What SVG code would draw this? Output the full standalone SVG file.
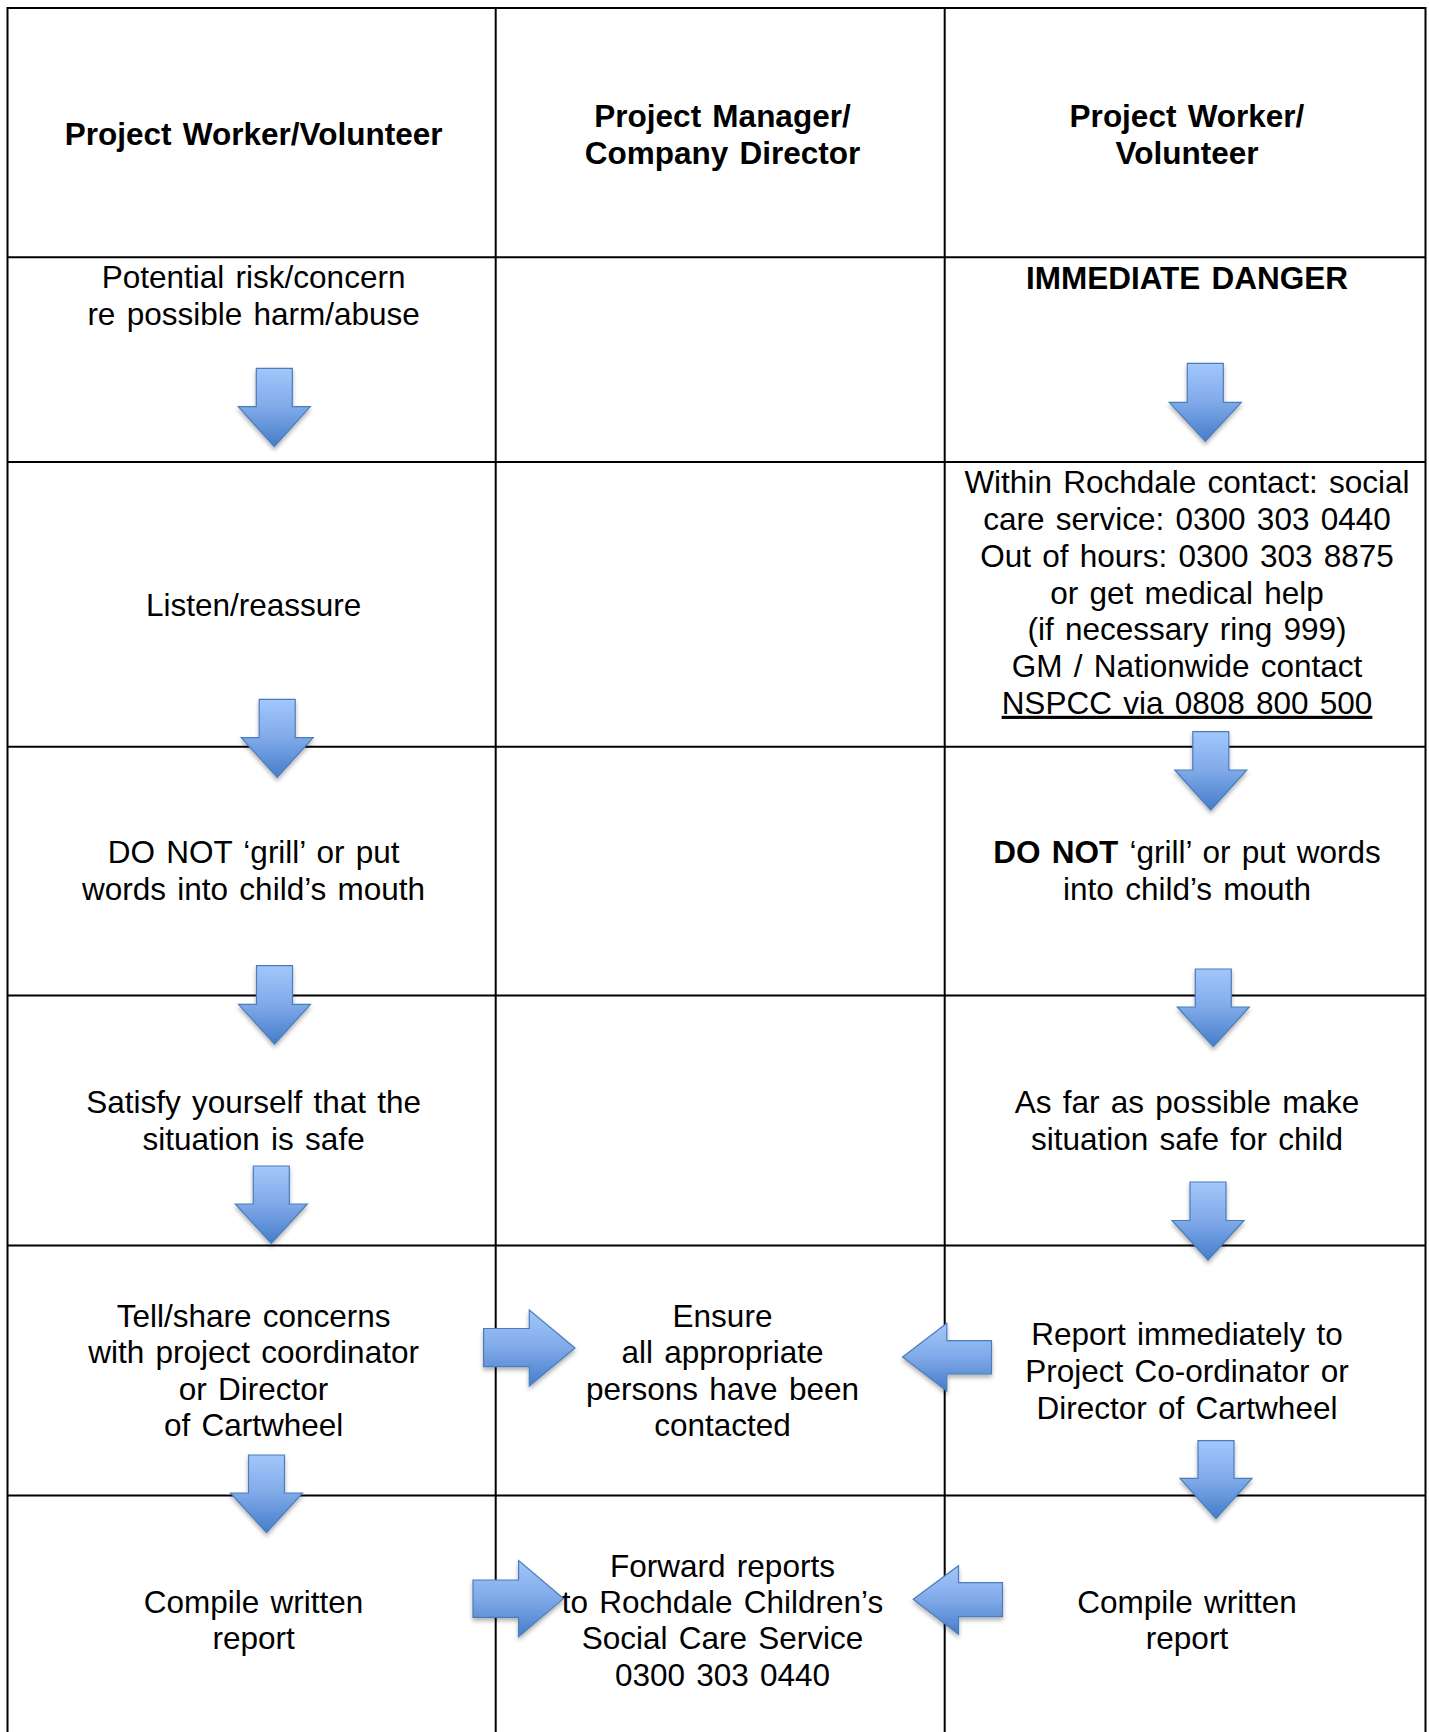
<svg xmlns="http://www.w3.org/2000/svg" width="1429" height="1732" viewBox="0 0 1429 1732">
<style>
  .t { font-family: "Liberation Sans", Arial, sans-serif; font-size: 31.5px; fill: #000; text-anchor: middle; word-spacing: 2.5px; }
  .b { font-weight: bold; }
  .grid line { stroke: #000; stroke-width: 2; }
  .arr { fill: url(#blueGrad); stroke: #4a7ebb; stroke-width: 1.2; filter: url(#shadow); }
</style>
<defs>
  <linearGradient id="blueGrad" x1="0" y1="0" x2="0" y2="1">
    <stop offset="0" stop-color="#a3c7fc"/>
    <stop offset="0.5" stop-color="#7fa9e8"/>
    <stop offset="1" stop-color="#457dca"/>
  </linearGradient>
  <filter id="shadow" x="-30%" y="-30%" width="160%" height="160%">
    <feDropShadow dx="0" dy="3" stdDeviation="2.2" flood-color="#000" flood-opacity="0.3"/>
  </filter>
</defs>
<rect width="1429" height="1732" fill="#fff"/>

<g id="grid" class="grid">
  <line x1="7.5" y1="8" x2="1425.5" y2="8"/>
  <line x1="7.5" y1="257.3" x2="1425.5" y2="257.3"/>
  <line x1="7.5" y1="462" x2="1425.5" y2="462"/>
  <line x1="7.5" y1="746.7" x2="1425.5" y2="746.7"/>
  <line x1="7.5" y1="995.5" x2="1425.5" y2="995.5"/>
  <line x1="7.5" y1="1245.5" x2="1425.5" y2="1245.5"/>
  <line x1="7.5" y1="1495.5" x2="1425.5" y2="1495.5"/>
  <line x1="7.5" y1="7" x2="7.5" y2="1732"/>
  <line x1="495.7" y1="7" x2="495.7" y2="1732"/>
  <line x1="944.7" y1="7" x2="944.7" y2="1732"/>
  <line x1="1425.5" y1="7" x2="1425.5" y2="1732"/>
</g>

<g id="header-worker">
  <text class="t b" x="253.6" y="145">Project Worker/Volunteer</text>
</g>
<g id="header-manager">
  <text class="t b" x="722.5" y="127">Project Manager/</text>
  <text class="t b" x="722.5" y="163.5">Company Director</text>
</g>
<g id="header-worker2">
  <text class="t b" x="1187" y="127">Project Worker/</text>
  <text class="t b" x="1187" y="163.5">Volunteer</text>
</g>

<g id="potential-risk">
  <text class="t" x="253.6" y="287.7">Potential risk/concern</text>
  <text class="t" x="253.6" y="325">re possible harm/abuse</text>
</g>
<g id="immediate-danger">
  <text class="t b" x="1187" y="289.3">IMMEDIATE DANGER</text>
</g>

<g id="listen">
  <text class="t" x="253.6" y="616">Listen/reassure</text>
</g>
<g id="contact">
  <text class="t" x="1187" y="493.3">Within Rochdale contact: social</text>
  <text class="t" x="1187" y="530">care service: 0300 303 0440</text>
  <text class="t" x="1187" y="566.8">Out of hours: 0300 303 8875</text>
  <text class="t" x="1187" y="603.5">or get medical help</text>
  <text class="t" x="1187" y="640.3">(if necessary ring 999)</text>
  <text class="t" x="1187" y="677">GM / Nationwide contact</text>
  <text class="t" x="1187" y="713.8" text-decoration="underline">NSPCC via 0808 800 500</text>
</g>

<g id="do-not-left">
  <text class="t" x="253.6" y="863">DO NOT ‘grill’ or put</text>
  <text class="t" x="253.6" y="900">words into child’s mouth</text>
</g>
<g id="do-not-right">
  <text class="t" x="1187" y="863"><tspan class="b">DO NOT</tspan> ‘grill’ or put words</text>
  <text class="t" x="1187" y="900">into child’s mouth</text>
</g>

<g id="satisfy">
  <text class="t" x="253.6" y="1113">Satisfy yourself that the</text>
  <text class="t" x="253.6" y="1150">situation is safe</text>
</g>
<g id="make-safe">
  <text class="t" x="1187" y="1113">As far as possible make</text>
  <text class="t" x="1187" y="1150">situation safe for child</text>
</g>

<g id="tell-share">
  <text class="t" x="253.6" y="1326.5">Tell/share concerns</text>
  <text class="t" x="253.6" y="1363">with project coordinator</text>
  <text class="t" x="253.6" y="1399.5">or Director</text>
  <text class="t" x="253.6" y="1436">of Cartwheel</text>
</g>
<g id="ensure">
  <text class="t" x="722.5" y="1326.5">Ensure</text>
  <text class="t" x="722.5" y="1363">all appropriate</text>
  <text class="t" x="722.5" y="1399.5">persons have been</text>
  <text class="t" x="722.5" y="1436">contacted</text>
</g>
<g id="report-immediately">
  <text class="t" x="1187" y="1345">Report immediately to</text>
  <text class="t" x="1187" y="1381.7">Project Co-ordinator or</text>
  <text class="t" x="1187" y="1418.5">Director of Cartwheel</text>
</g>

<g id="compile-left">
  <text class="t" x="253.6" y="1613">Compile written</text>
  <text class="t" x="253.6" y="1649.3">report</text>
</g>
<g id="forward">
  <text class="t" x="722.5" y="1576.5">Forward reports</text>
  <text class="t" x="722.5" y="1612.8">to Rochdale Children’s</text>
  <text class="t" x="722.5" y="1649.2">Social Care Service</text>
  <text class="t" x="722.5" y="1685.6">0300 303 0440</text>
</g>
<g id="compile-right">
  <text class="t" x="1187" y="1613">Compile written</text>
  <text class="t" x="1187" y="1649.3">report</text>
</g>

<g id="connectors">
  <path class="arr" d="M256.3,368.3 H292.3 V406.7 H310.3 L274.3,446.7 L238.3,406.7 H256.3 Z"/>
  <path class="arr" d="M259.2,699.3 H295.2 V737.7 H313.2 L277.2,777.3 L241.2,737.7 H259.2 Z"/>
  <path class="arr" d="M256.5,965.7 H292.5 V1004.3 H310.5 L274.5,1044 L238.5,1004.3 H256.5 Z"/>
  <path class="arr" d="M253.3,1166 H289.3 V1204 H307.3 L271.3,1243.3 L235.3,1204 H253.3 Z"/>
  <path class="arr" d="M248.5,1455 H284.5 V1493 H302.5 L266.5,1532.7 L230.5,1493 H248.5 Z"/>
  <path class="arr" d="M1187.3,363.3 H1223.3 V402.3 H1241.3 L1205.3,441.3 L1169.3,402.3 H1187.3 Z"/>
  <path class="arr" d="M1192.8,731.7 H1228.8 V770 H1246.8 L1210.8,810 L1174.8,770 H1192.8 Z"/>
  <path class="arr" d="M1195.3,969 H1231.3 V1007 H1249.3 L1213.3,1046.7 L1177.3,1007 H1195.3 Z"/>
  <path class="arr" d="M1190,1182 H1226 V1220.5 H1244 L1208,1260 L1172,1220.5 H1190 Z"/>
  <path class="arr" d="M1198,1440.7 H1234 V1478.3 H1252 L1216,1518.7 L1180,1478.3 H1198 Z"/>
  <path class="arr" d="M483.6,1328.5 H529.3 V1310 L575,1348 L529.3,1386 V1366.7 H483.6 Z"/>
  <path class="arr" d="M991.5,1340.7 H946.8 V1323.3 L902.6,1357 L946.8,1391 V1374 H991.5 Z"/>
  <path class="arr" d="M473,1580 H518.6 V1560.5 L563.5,1598.6 L518.6,1636.7 V1617.3 H473 Z"/>
  <path class="arr" d="M1002.5,1582.7 H958.5 V1565.7 L913.2,1599.3 L958.5,1634.3 V1616.7 H1002.5 Z"/>
</g>
</svg>
